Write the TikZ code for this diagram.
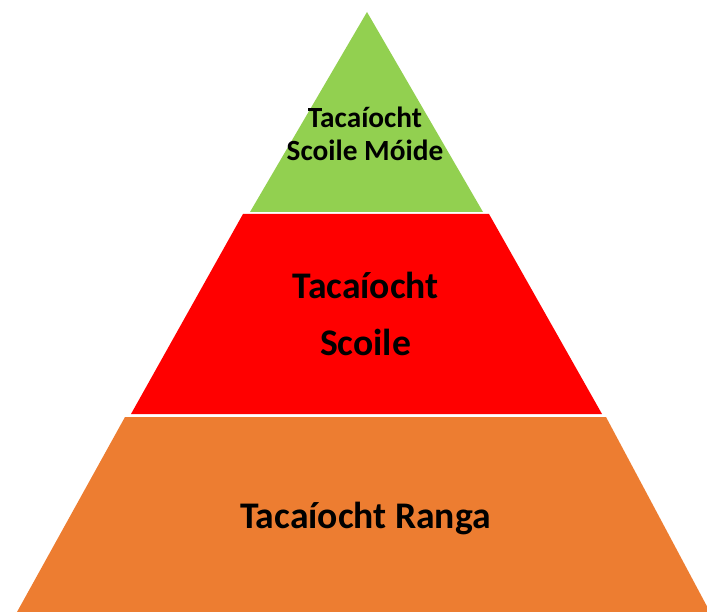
\documentclass[tikz,border=0pt]{standalone}
\usepackage{fontspec}
\setmainfont{Carlito}
\definecolor{tgreen}{HTML}{92D050}
\definecolor{tred}{HTML}{FF0000}
\definecolor{torange}{HTML}{ED7D31}
\begin{document}
\begin{tikzpicture}[x=1pt,y=-1pt,
  lbl/.style={font=\bfseries\fontsize{37.6}{42}\selectfont, text=black, inner sep=0pt, anchor=center},
  lbls/.style={font=\bfseries\fontsize{29.3}{34}\selectfont, text=black, inner sep=0pt, anchor=center}]
\useasboundingbox (0,0) rectangle (707,612);
\fill[tgreen] (367,12) -- (483,212) -- (250,212) -- cycle;
\fill[tred] (243,214) -- (489,214) -- (602,414) -- (131,414) -- cycle;
\fill[torange] (125,417) -- (606,417) -- (710,612) -- (17,612) -- cycle;
\node[lbls] (g1) at (365,117) {Tacaíocht};
\node[lbls] (g2) at (365,150) {Scoile Móide};
\node[lbl] (r1) at (365.5,285) {Tacaíocht};
\node[lbl] (r2) at (365.5,342) {Scoile};
\node[lbl] (o1) at (365.5,518) {Tacaíocht Ranga};
\end{tikzpicture}
\end{document}
